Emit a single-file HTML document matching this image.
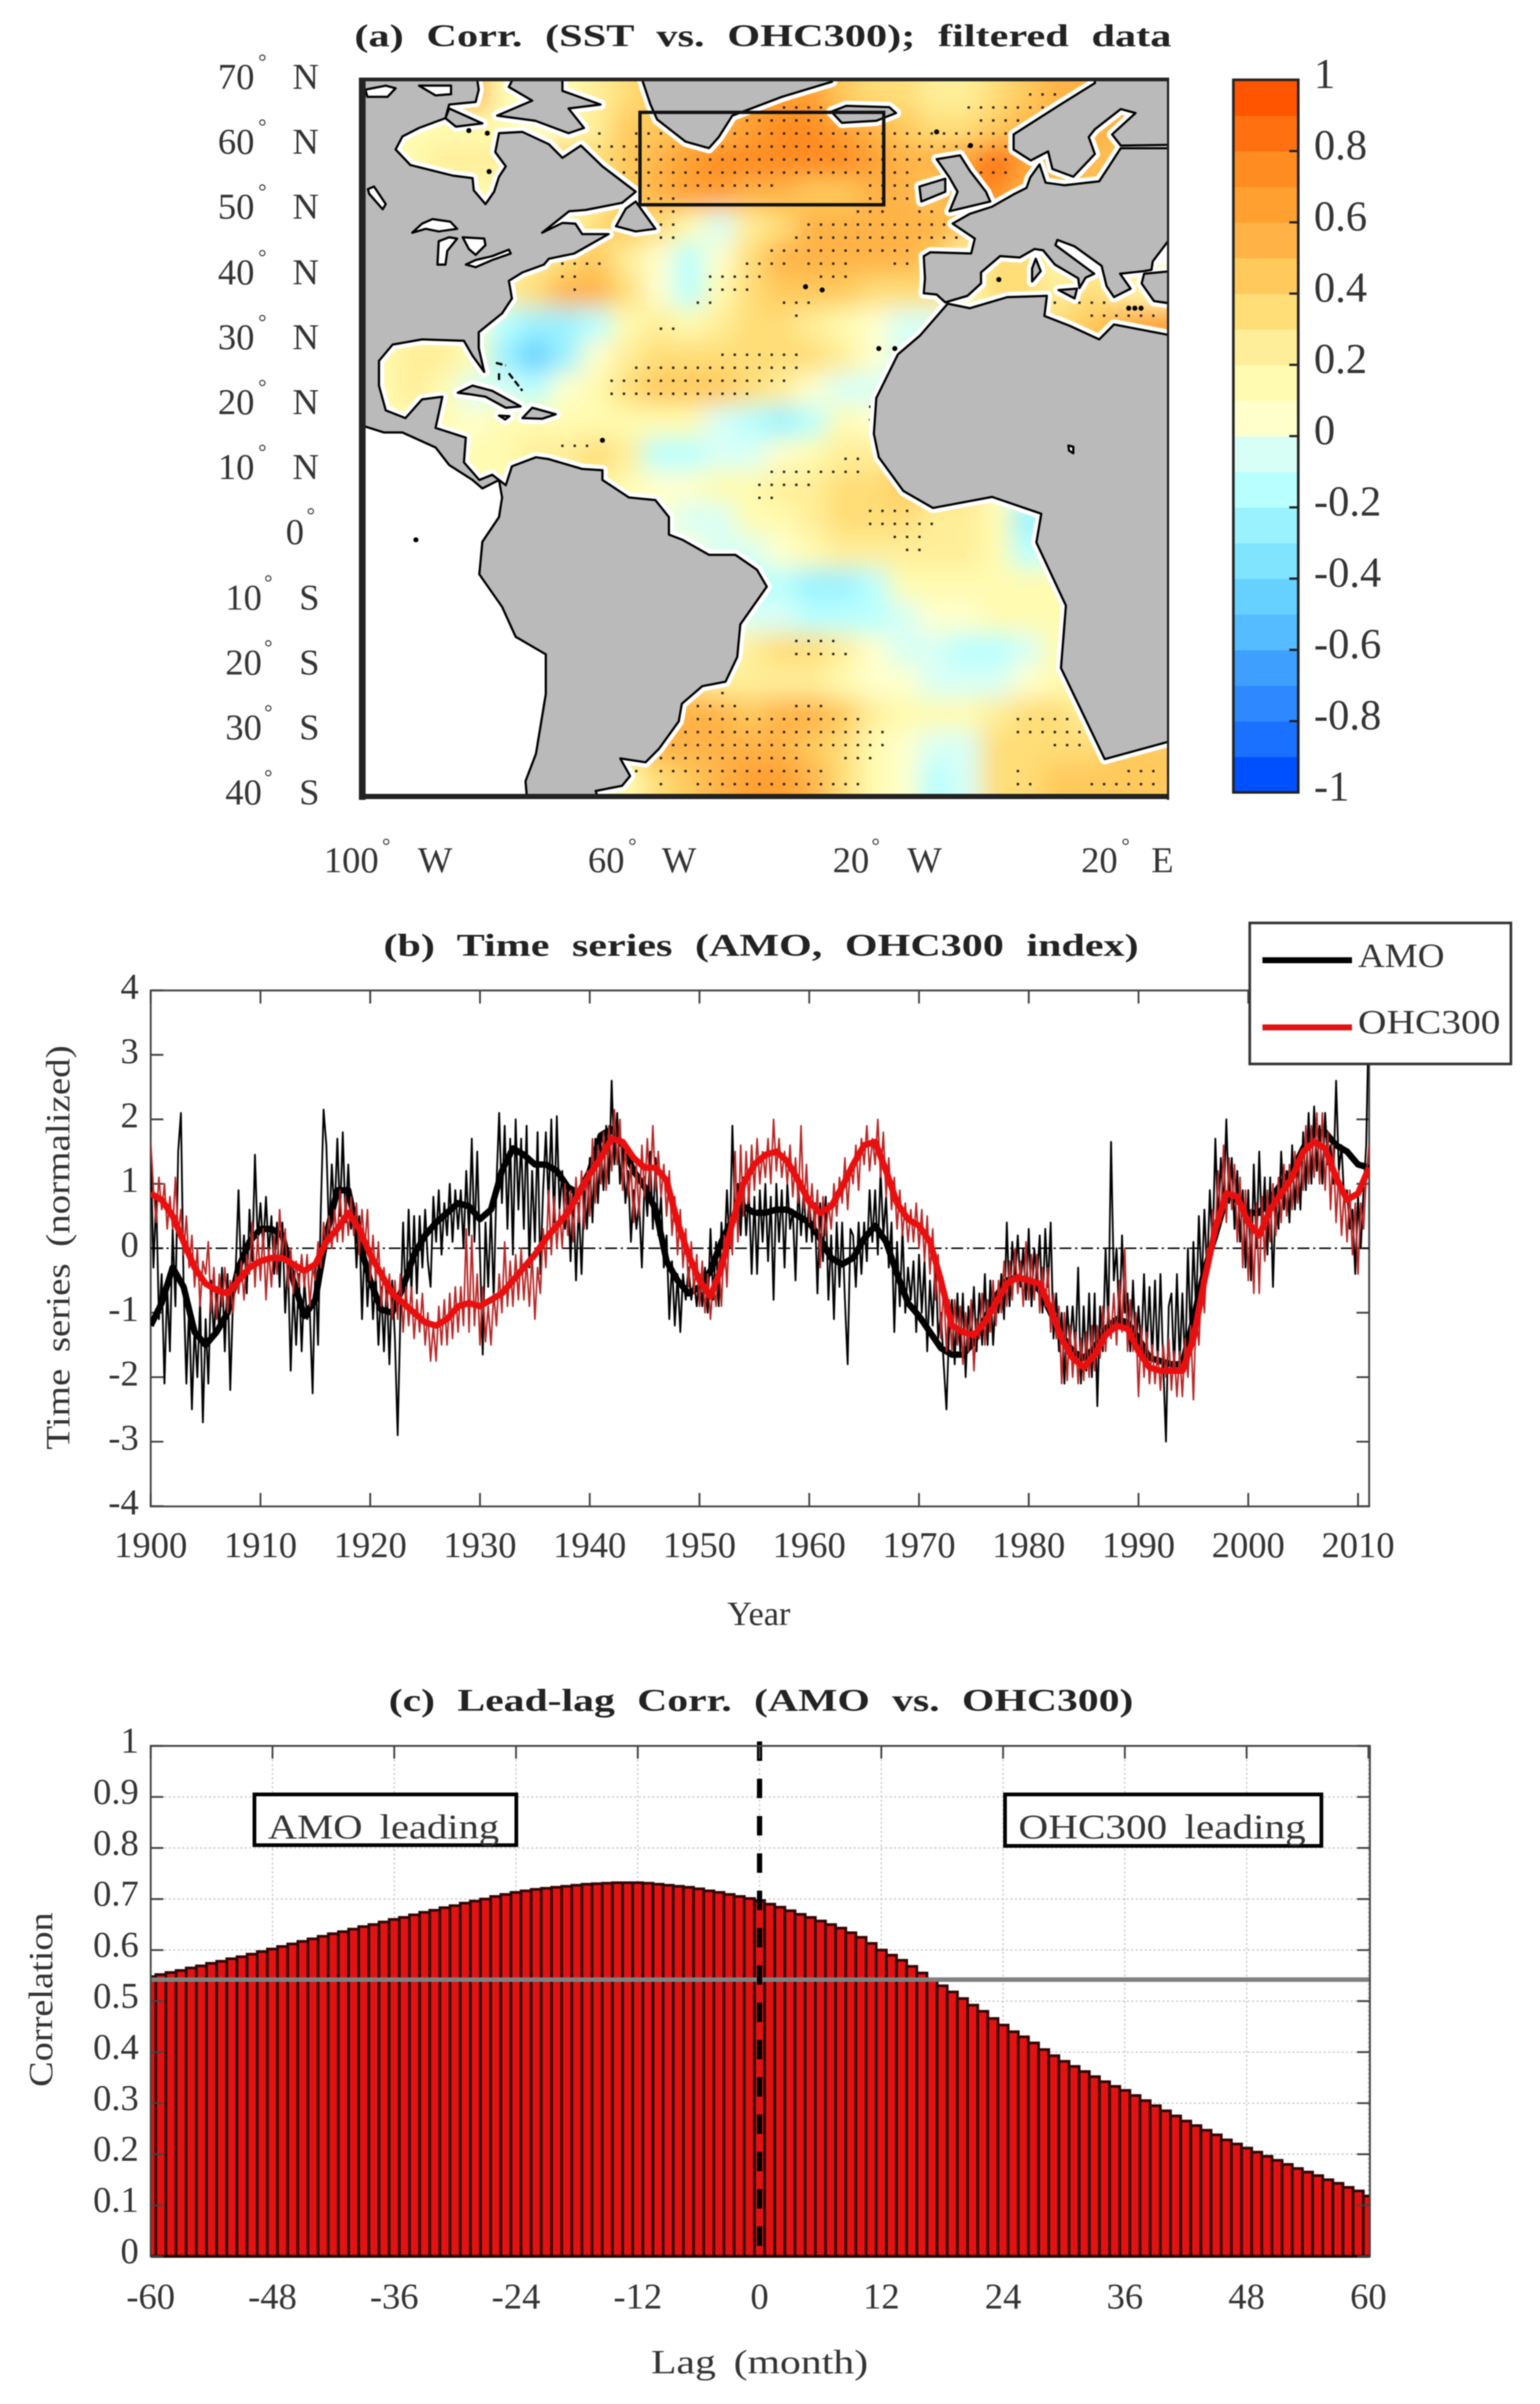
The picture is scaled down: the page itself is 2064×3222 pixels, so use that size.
<!DOCTYPE html>
<html lang="en">
<head>
<meta charset="utf-8">
<title>AMO and OHC300 correlation figure</title>
<style>
html,body{margin:0;padding:0;background:#fff;}
svg{display:block;filter:blur(0.7px);}
text{font-family:"Liberation Serif",serif;fill:#333;}
.t{font-size:49px;}
.title{font-size:42px;font-weight:bold;fill:#222;word-spacing:12px;}
.deg{font-size:28px;}
.wide{word-spacing:8px;}
</style>
</head>
<body>
<svg id="fig" xmlns="http://www.w3.org/2000/svg" width="2064" height="3222" viewBox="0 0 2064 3222">
<defs>
<clipPath id="mapClip"><rect x="484" y="107" width="1081" height="960"/></clipPath>
<clipPath id="tsClip"><rect x="202" y="1200" width="1633" height="819"/></clipPath>
<clipPath id="llClip"><rect x="202" y="2340" width="1634" height="684"/></clipPath>
<filter id="fieldBlur" x="-5%" y="-5%" width="110%" height="110%"><feGaussianBlur stdDeviation="16"/></filter>
</defs>
<rect width="2064" height="3222" fill="#fff"/>

<!-- PANEL A -->
<text class="title" x="475" y="62" textLength="1095" lengthAdjust="spacingAndGlyphs">(a) Corr. (SST vs. OHC300); filtered data</text>
<g clip-path="url(#mapClip)">
  <rect x="484" y="107" width="1081" height="960" fill="#fff"/>
  <g id="fieldG" filter="url(#fieldBlur)"></g>
  <g id="stippleG"></g>
  <path id="pacificMask" fill="#fff"/>
  <g id="landHalo"></g>
  <g id="landG"></g>
  <g id="lakeG"></g>
  <g id="marksG"></g>
</g>
<rect id="spgBox" fill="none" stroke="#111" stroke-width="4.5"/>
<g fill="#222">
  <rect x="481" y="104" width="1086" height="5"/>
  <rect x="481" y="104" width="9" height="968"/>
  <rect x="481" y="1064" width="1086" height="7"/>
  <rect x="1564" y="104" width="3" height="968"/>
</g>
<g>
  <text class="t" x="292" y="119">70</text><text class="deg" x="346" y="92">°</text><text class="t" x="392" y="119">N</text>
  <text class="t" x="292" y="206">60</text><text class="deg" x="346" y="179">°</text><text class="t" x="392" y="206">N</text>
  <text class="t" x="292" y="293">50</text><text class="deg" x="346" y="266">°</text><text class="t" x="392" y="293">N</text>
  <text class="t" x="292" y="381">40</text><text class="deg" x="346" y="354">°</text><text class="t" x="392" y="381">N</text>
  <text class="t" x="292" y="468">30</text><text class="deg" x="346" y="441">°</text><text class="t" x="392" y="468">N</text>
  <text class="t" x="292" y="555">20</text><text class="deg" x="346" y="528">°</text><text class="t" x="392" y="555">N</text>
  <text class="t" x="292" y="642">10</text><text class="deg" x="346" y="615">°</text><text class="t" x="392" y="642">N</text>
  <text class="t" x="383" y="729">0</text><text class="deg" x="411" y="700">°</text>
  <text class="t" x="302" y="817">10</text><text class="deg" x="354" y="790">°</text><text class="t" x="401" y="817">S</text>
  <text class="t" x="302" y="904">20</text><text class="deg" x="354" y="877">°</text><text class="t" x="401" y="904">S</text>
  <text class="t" x="302" y="991">30</text><text class="deg" x="354" y="964">°</text><text class="t" x="401" y="991">S</text>
  <text class="t" x="302" y="1078">40</text><text class="deg" x="354" y="1051">°</text><text class="t" x="401" y="1078">S</text>
</g>
<g>
  <text class="t" x="434" y="1169">100</text><text class="deg" x="512" y="1143">°</text><text class="t" x="560" y="1169">W</text>
  <text class="t" x="788" y="1169">60</text><text class="deg" x="842" y="1143">°</text><text class="t" x="887" y="1169">W</text>
  <text class="t" x="1116" y="1169">20</text><text class="deg" x="1168" y="1143">°</text><text class="t" x="1216" y="1169">W</text>
  <text class="t" x="1449" y="1169">20</text><text class="deg" x="1503" y="1143">°</text><text class="t" x="1558" y="1169" text-anchor="middle">E</text>
</g>
<g id="cbarG"></g>

<!-- PANEL B -->
<text class="title" x="514" y="1281" textLength="1012" lengthAdjust="spacingAndGlyphs">(b) Time series (AMO, OHC300 index)</text>
<g id="tsG"></g>
<text class="t wide" style="font-size:46px" transform="translate(93,1672) rotate(-90)" text-anchor="middle" textLength="542" lengthAdjust="spacingAndGlyphs">Time series (normalized)</text>
<text class="t" style="font-size:46px" x="1017" y="2178" text-anchor="middle">Year</text>
<g>
  <rect x="1675" y="1237" width="350" height="189" fill="#fff" stroke="#333" stroke-width="3.5"/>
  <line x1="1692" x2="1812" y1="1287" y2="1287" stroke="#000" stroke-width="8"/>
  <text class="t" style="font-size:46px" x="1820" y="1296" textLength="116" lengthAdjust="spacingAndGlyphs">AMO</text>
  <line x1="1692" x2="1812" y1="1377" y2="1377" stroke="#e01212" stroke-width="8"/>
  <text class="t" style="font-size:46px" x="1820" y="1385" textLength="191" lengthAdjust="spacingAndGlyphs">OHC300</text>
</g>

<!-- PANEL C -->
<text class="title" x="521" y="2293" textLength="998" lengthAdjust="spacingAndGlyphs">(c) Lead-lag Corr. (AMO vs. OHC300)</text>
<g id="llG"></g>
<g>
  <rect x="341" y="2405" width="351" height="68" fill="#fff" stroke="#000" stroke-width="5"/>
  <text class="t wide" style="font-size:47px" x="359" y="2464" textLength="310" lengthAdjust="spacingAndGlyphs">AMO leading</text>
</g>
<g>
  <rect x="1347" y="2405" width="424" height="69" fill="#fff" stroke="#000" stroke-width="5"/>
  <text class="t wide" style="font-size:47px" x="1365" y="2464" textLength="385" lengthAdjust="spacingAndGlyphs">OHC300 leading</text>
</g>
<text class="t" style="font-size:46px" transform="translate(70,2680) rotate(-90)" text-anchor="middle" textLength="234" lengthAdjust="spacingAndGlyphs">Correlation</text>
<text class="t wide" style="font-size:46px" x="1018" y="3181" text-anchor="middle" textLength="291" lengthAdjust="spacingAndGlyphs">Lag (month)</text>
</svg>

<script>
// ===== Lead-lag data =====
const lagTicks = [-60,-48,-36,-24,-12,0,12,24,36,48,60];
const corrTicks = [0,0.1,0.2,0.3,0.4,0.5,0.6,0.7,0.8,0.9,1];
const significanceLevel = 0.542;
const lagCorrelation = [
.548,.552,.556,.560,.565,.569,.574,.578,.583,.587,.592,.597,
.602,.607,.612,.617,.622,.627,.632,.636,.641,.646,.650,.655,
.660,.664,.669,.674,.678,.683,.687,.692,.696,.700,.705,.709,
.713,.716,.719,.721,.723,.725,.727,.729,.730,.731,.732,.732,
.732,.731,.729,.727,.725,.723,.720,.716,.713,.709,.705,.701,
.697,.690,.684,.677,.670,.664,.657,.650,.643,.634,.625,.613,
.600,.590,.580,.568,.555,.542,.530,.518,.505,.492,.480,.466,
.453,.440,.430,.418,.405,.393,.382,.372,.362,.352,.342,.333,
.325,.315,.305,.295,.285,.275,.265,.256,.247,.238,.228,.220,
.212,.204,.196,.188,.180,.172,.165,.158,.150,.143,.135,.128,.118];

// ===== Time series data (quarter-year samples, from 1900) =====
const yearTicks = [1900,1910,1920,1930,1940,1950,1960,1970,1980,1990,2000,2010];
const seriesTicks = [-4,-3,-2,-1,0,1,2,3,4];
const amoRaw = [
1.5,-.3,.8,-1.1, -.4,-2.1,-.6,-1.6, .3,-.9,1.5,2.1, -.6,-2.1,-.9,-2.5, -1.2,-2.0,-.8,-2.7,
-1.1,-2.1,-.5,-1.4, -.6,-1.3,-.3,-1.6, -.4,-2.2,-.8,-.3, .9,-.5,.2,-.7, .6,-.2,1.45,.1,
.7,0,.8,-.1, .5,-.4,.4,-.6, .4,-1.0,-.2,-1.9, -.6,-1.5,-.4,-1.6, -.5,-1.1,-1.0,-2.25,
-.3,-1.5,.6,2.15, 1.6,.2,1.3,.5, 1.7,.5,1.8,.4, 1.3,.3,.7,-.3, .5,-1.1,.1,-.9,
-.2,-1.1,-.4,-1.5, -.6,-1.6,-.5,-1.8, -.5,-1.4,-2.9,-1.0, .4,-.9,.6,-.7, .5,-.7,.5,-.3,
.6,-.2,-.6,.8, .1,.9,-.1,.7, .2,1.0,.1,.9, .3,.9,0,1.2, .2,1.7,.1,1.5,
-.1,-1.65,.4,-.6, .6,-.8,1.0,2.1, .7,1.9,.3,1.7, -.1,2.0,.6,1.7, .3,1.9,-.3,1.2,
.1,1.8,-.4,.9, 1.8,.7,2.0,.4, 2.05,.6,1.2,.3, 1.0,-.2,.9,-.5, .7,-.4,.9,.3,
1.4,.4,1.7,.7, 1.6,.9,1.9,1.0, 2.6,1.3,2.1,1.0, 1.6,.7,1.2,.1, .9,.3,.7,-.3,
1.1,.5,1.5,.3, 1.4,.2,.8,-.3, .2,-1.1,-.2,-1.2, -.4,-1.3,-.4,-.8, -.3,-.8,-.5,-.9,
-.4,-.9,-.3,-1.0, .3,-.8,.1,-.9, .4,-.2,.9,0, 1.9,.4,1.0,.2, 1.1,.2,.9,-.4,
.8,-.4,.9,.1, 1.0,-.2,.8,-.8, 1.0,.1,.9,-.3, 1.0,.3,.6,-.5, 1.0,.2,.9,.1,
.8,.1,.7,-.7, .7,-.2,.8,-.8, .2,-1.1,.4,-.6, .4,-.8,-1.8,.3, .2,-.6,.4,-.4,
.4,-.2,.9,.1, .9,-.1,1.2,.2, .8,-.3,.4,-1.3, .1,-.9,.3,-1.0, -.3,-.8,-.2,-1.3,
-.1,-1.0,-.2,-1.6, -.5,-1.2,-.1,-1.4, -1.0,-1.8,-2.5,-1.2, -.8,-1.8,-.7,-1.6, -.7,-2.0,-.9,-1.5,
-.6,-1.6,-.7,-1.5, -.4,-1.5,-.5,-1.5, -.7,-1.0,-.4,-1.1, .4,-.9,.1,-.5, .2,-.6,0,-.8,
.3,-.9,0,-.5, .2,-1.0,.3,-.6, .4,-1.4,-.7,-1.6, -1.0,-2.1,-.9,-1.5, -.9,-1.6,-.3,-2.1,
-.9,-1.9,-.7,-2.0, -.7,-2.45,-.9,-1.6, 0,-1.2,1.65,-.5, 0,-1.2,.2,-1.0, -.7,-1.6,-.5,-1.6,
-.9,-1.6,-.4,-1.6, -.6,-1.7,-.5,-1.8, -.4,-1.8,-3.0,-.9, -.7,-1.9,-.4,-1.8, -.7,-1.9,0,-1.4,
.1,-1.0,.5,-.6, .6,-.4,.9,0, 1.7,.4,1.4,.6, 2.0,.7,1.4,.3, 1.2,.1,.9,-.3,
.9,-.5,1.3,0, 1.5,.2,1.1,-.1, 1.1,-.6,.8,.3, 1.5,.6,1.2,.4, 1.6,.6,1.4,.6,
1.8,.9,2.1,1.0, 2.2,1.2,1.9,1.0, 2.1,1.3,1.6,1.0, 2.6,1.2,1.6,.7, .9,.3,.6,-.4,
.8,0,.9,1.6, 3.8];
const ohcRaw = [
1.65,.9,.4,1.1, .6,1.0,.3,.8, .3,1.1,.2,.6, -.1,.5,-.3,.2, -.6,0,-.9,-.2,
-.4,.1,-1.0,-.3, -1.1,-.4,-.9,-.3, -1.0,-.5,-1.0,-.4, -.7,-.2,-.8,-.1, -.4,.4,-.6,.2,
-.5,.3,-.8,0, -.6,.2,-.4,.6, -.1,.3,-.6,0, -.7,-.2,-.6,-.1, -.6,-.1,-.9,-.3,
-.5,.1,-.3,.4, 0,.5,0,.6, .1,.9,.1,.8, .2,.8,.2,.7, -.1,.6,0,.6,
-.5,.2,-.5,.1, -.9,-.3,-.9,-.4, -1.1,-.5,-1.1,-.4, -1.3,-.6,-1.2,-.6, -1.4,-.8,-1.3,-.7,
-1.5,-1.0,-1.75,-1.2, -1.75,-.9,-1.5,-.8, -1.5,-.7,-1.4,-.6, -1.3,-.6,-1.2,.3, -1.3,.2,-1.2,-.4,
-1.5,-.6,-1.45,-.9, -1.5,-.7,-1.2,-.4, -1.0,.1,-.9,-.2, -.9,-.1,-.8,0, -.8,-.2,-.9,-.1,
-1.1,-.3,-.7,.3, -.3,.9,-.1,.8, 0,.6,0,1.0, .2,.9,.1,1.1, .4,1.2,.3,1.2,
.5,1.7,.7,1.6, 1.0,1.8,.9,1.9, 1.2,2.15,1.3,2.0, .9,1.6,.8,1.3, .4,1.3,.5,1.6,
.8,1.7,.9,1.9, .9,1.5,.8,1.3, .5,1.2,.2,.8, -.1,.6,-.3,.3, -.6,.1,-.7,-.1,
-.9,-.2,-1.0,-.4, -1.1,-.5,-.9,-.2, -.9,.2,-.6,.5, -.1,1.5,.1,1.6, .5,1.5,.7,1.6,
.9,1.7,1.0,1.5, 1.1,1.7,1.0,2.0, 1.2,1.7,1.1,1.5, 1.0,1.6,.8,1.4, .7,1.9,.6,1.3,
.4,1.0,.3,.9, -.3,.8,.2,.7, .3,1.0,.5,1.1, .7,1.4,.6,1.3, 1.0,1.6,.9,1.7,
1.3,1.9,1.2,1.7, 1.3,2.0,1.1,1.8, .8,1.4,.6,1.1, .3,.9,.2,.7, .1,.6,.1,.7,
0,.6,-.2,.5, -.4,.3,-.8,-.1, -1.4,-.6,-1.6,-.8, -1.6,-.8,-1.5,-.9, -1.8,-1.0,-1.6,-.8,
-1.9,-1.1,-1.4,-.7, -1.5,-.8,-1.3,-.5, -1.2,-.5,-1.0,-.2, -.9,-.2,-.8,0, -.7,-.2,-.9,.1,
-.8,-.1,-.8,-.1, -1.0,-.3,-.9,-.3, -1.3,-.7,-1.4,-.9, -2.1,-1.0,-2.05,-1.2, -2.0,-1.3,-2.1,-1.4,
-2.05,-1.3,-2.0,-1.2, -1.9,-1.2,-1.7,-.9, -1.6,-.9,-1.4,-.7, -1.5,-.5,-1.3,0, -1.6,-.8,-1.6,-1.0,
-2.3,-1.2,-2.0,-1.3, -2.1,-1.5,-2.1,-1.6, -2.2,-1.5,-2.0,-1.4, -2.2,-1.6,-2.3,-1.6, -2.3,-1.4,-2.0,-1.2,
-2.35,-1.0,-1.5,-.5, -1.0,0,-.3,.6, .2,1.2,.4,1.6, .4,1.4,.6,1.3, .1,1.1,-.3,.9,
-.5,.6,-.7,.7, -.7,.8,-.2,.9, .1,1.0,.2,1.1, .4,1.3,.5,1.3, .6,1.5,.7,1.5,
.9,1.9,1.0,1.9, 1.1,2.1,1.0,2.1, .9,1.8,.6,1.6, .4,1.2,.2,.9, .1,.9,-.1,.7,
-.4,.7,.3,1.1, 1.6];
const amoSmooth = [
-1.2,-.85,-.3,-.6,-1.3,-1.5,-1.3,-1.0,-.3,.1,
.3,.3,.2,-.5,-1.05,-.8,.2,.9,.9,.1,
-.5,-.95,-1.0,-.6,-.1,.2,.4,.55,.7,.65,
.45,.6,1.2,1.55,1.45,1.3,1.3,1.2,.95,.85,
1.2,1.75,1.85,1.6,1.2,.95,.6,-.2,-.5,-.7,
-.6,-.35,.1,.45,.65,.55,.55,.6,.6,.5,
.4,.15,-.15,-.25,-.15,.15,.35,.1,-.4,-.85,
-1.05,-1.3,-1.55,-1.65,-1.65,-1.45,-1.1,-.75,-.5,-.45,
-.5,-.65,-1.0,-1.35,-1.6,-1.7,-1.55,-1.25,-1.1,-1.15,
-1.4,-1.7,-1.75,-1.8,-1.8,-1.1,-.35,.2,.8,.75,
.55,.55,.75,1.0,1.2,1.55,1.8,1.8,1.6,1.5,
1.3,1.25];
const ohcSmooth = [
.85,.75,.5,.1,-.3,-.55,-.65,-.7,-.5,-.3,
-.2,-.15,-.15,-.25,-.35,-.25,.1,.3,.55,.3,
-.1,-.4,-.7,-.85,-1.0,-1.15,-1.2,-1.1,-.9,-.85,
-.9,-.8,-.7,-.5,-.3,-.1,.15,.35,.55,.85,
1.15,1.4,1.7,1.65,1.4,1.25,1.25,1.05,.4,-.1,
-.5,-.75,-.3,.4,1.0,1.3,1.45,1.5,1.35,1.05,
.72,.55,.65,.95,1.3,1.6,1.65,1.2,.7,.45,
.35,.1,-.5,-1.2,-1.3,-1.35,-1.15,-.85,-.55,-.45,
-.5,-.55,-.95,-1.4,-1.7,-1.85,-1.65,-1.35,-1.2,-1.25,
-1.6,-1.85,-1.9,-1.9,-1.9,-1.4,-.5,.3,.85,.8,
.4,.2,.6,.85,1.1,1.5,1.65,1.55,1.1,.75,
.85,1.25];

// ===== Map data =====
const fieldLons = [-97.5,-92.5,-87.5,-82.5,-77.5,-72.5,-67.5,-62.5,-57.5,-52.5,-47.5,-42.5,-37.5,-32.5,-27.5,-22.5,-17.5,-12.5,-7.5,-2.5,2.5,7.5,12.5,17.5,22.5,27.5];
const fieldLats = [67.5,62.5,57.5,52.5,47.5,42.5,37.5,32.5,27.5,22.5,17.5,12.5,7.5,2.5,-2.5,-7.5,-12.5,-17.5,-22.5,-27.5,-32.5,-37.5];
const n = null;
const fieldValues = [
[n,n,n,.5,n,n,n,.25,.3,n,n,n,n,n,n,.45,.35,.3,.2,.2,.3,.45,.55,n,n,n],
[n,n,.1,.1,.1,.05,.1,.25,.4,.45,.5,.5,.65,.72,.72,.65,.5,.42,.3,.35,.42,.5,n,.55,n,n],
[n,.15,.2,.2,.2,n,.4,.35,.48,.58,.66,.72,.78,.78,.76,.7,.62,.55,.5,.68,.82,.6,.5,.55,.4,n],
[n,n,n,.15,n,n,n,.2,.45,.55,.62,.62,.58,.55,.48,.42,.52,.52,.4,.7,.72,.5,.4,.45,n,n],
[n,n,.05,n,n,n,.1,.3,.4,.35,.18,-.05,.2,.35,.5,.55,.55,.55,.5,n,n,n,n,n,n,n],
[n,n,n,n,n,.25,.35,.42,.25,.02,-.15,.05,.35,.5,.5,.5,.5,.5,.45,.1,.3,.3,.15,n,n,n],
[n,n,n,n,.25,.38,.5,.5,.3,.05,-.15,.1,.35,.4,.4,.4,.35,.3,.3,.15,.3,.3,.2,.35,.2,.1],
[n,n,n,.05,-.15,-.25,-.25,-.15,.1,.2,.15,.25,.3,.3,.25,.15,0,-.1,-.1,n,n,n,.35,.45,.5,.6],
[.15,.2,.2,.1,-.3,-.45,-.3,0,.2,.3,.3,.3,.35,.3,.3,.2,.05,-.1,n,n,n,n,n,n,n,n],
[.15,.2,.15,-.05,-.1,-.15,0,.15,.3,.4,.4,.4,.35,.2,.05,-.05,-.1,n,n,n,n,n,n,n,n,n],
[n,n,.1,0,.1,.1,.1,.15,.1,.15,.1,-.05,-.2,-.3,-.15,.1,.05,n,n,n,n,n,n,n,n,n],
[n,n,n,.1,.15,.2,.25,.35,.2,-.15,-.2,-.1,-.1,.05,.1,.25,.25,n,n,n,n,n,n,n,n,n],
[n,n,n,n,n,n,n,.2,.1,.05,.05,.1,.15,.2,.25,.3,.35,.4,.35,.3,n,n,n,n,n,n],
[n,n,n,n,n,n,n,n,n,0,-.05,-.05,.1,.15,.25,.3,.3,.35,.25,.2,.1,-.25,n,n,n,n],
[n,n,n,n,n,n,n,n,n,n,0,-.1,-.1,.05,.15,.2,.25,.25,.2,.2,.1,-.15,n,n,n,n],
[n,n,n,n,n,n,n,n,n,n,n,n,-.15,-.18,-.22,-.22,-.12,.1,.15,.15,.15,.15,.15,n,n,n],
[n,n,n,n,n,n,n,n,n,n,n,n,-.1,-.08,-.15,-.2,-.15,-.05,.05,.05,.1,.15,.15,n,n,n],
[n,n,n,n,n,n,n,n,n,n,n,.15,.2,.3,.3,.2,0,-.05,-.1,-.12,-.12,-.05,.1,n,n,n],
[n,n,n,n,n,n,n,n,n,n,n,.2,.25,.25,.2,.1,.05,0,-.08,-.1,-.1,0,.1,n,n,n],
[n,n,n,n,n,n,n,n,n,n,.5,.5,.45,.5,.5,.4,.25,.1,.1,.15,.25,.35,.3,n,n,n],
[n,n,n,n,n,n,n,n,n,.55,.55,.5,.55,.55,.45,.3,.15,0,-.1,-.05,.3,.35,.3,.3,n,n],
[n,n,n,n,n,n,n,n,.1,.35,.4,.5,.6,.6,.5,.35,.1,0,-.15,-.05,.3,.35,.4,.4,.45,.45]];
const levelColors = ["#0050ff","#1a70ff","#2e88ff","#3f9fff","#55bdff","#66d0ff","#80e4ff","#9af2ff","#b8ffff","#d8fff5",
"#ffffcc","#fffbb0","#ffee99","#ffdd77","#ffc95c","#ffb347","#ffa030","#ff8c20","#ff7010","#ff5500"];
const colorbarTicks = [1,.8,.6,.4,.2,0,-.2,-.4,-.6,-.8,-1];
// stipple rows: latitude, first longitude, last longitude (2 degree spacing)
const stippleRows = [
[68,8,12],[66,-32,-26],[66,-2,10],[64,-38,-26],[64,0,6],[62,-62,-62],[62,-56,-52],[62,-40,4],[60,-62,-50],[60,-42,4],
[58,-60,-10],[58,0,4],[56,-58,-12],[56,0,4],[54,-54,-34],[54,-18,-12],[52,-54,-50],[52,-18,-12],[50,-52,-50],[50,-20,-16],[50,-10,-8],
[48,-52,-50],[48,-28,-6],[46,-52,-50],[46,-30,-4],[44,-34,-12],[42,-68,-62],[42,-38,-32],[42,-28,-22],[42,-14,-12],
[40,-68,-66],[40,-44,-36],[40,-26,-22],[38,-66,-66],[38,-44,-38],[36,-46,-44],[36,-32,-28],[36,12,12],[36,16,20],[34,-30,-30],[34,12,12],[34,18,28],[32,-52,-50],
[28,-42,-30],[26,-56,-30],[24,-60,-32],[22,-60,-38],[20,-18,-18],[18,-18,-18],[14,-68,-64],[12,-22,-20],[10,-34,-20],[8,-36,-28],[6,-36,-34],[4,-18,-12],[2,-18,-8],[0,-14,-10],[-2,-12,-10],
[-16,-30,-24],[-18,-30,-22],[-24,-42,-42],[-26,-46,-40],[-26,-30,-26],[-28,-46,-20],[-28,6,14],[-30,-48,-16],[-30,6,16],[-32,-50,-16],[-32,12,16],
[-34,-52,-30],[-34,-22,-18],[-36,-56,-56],[-36,-52,-26],[-36,6,6],[-36,24,28],[-38,-52,-52],[-38,-46,-20],[-38,6,8],[-38,18,28],[-40,-52,-52],[-40,-44,-14]];
// land outlines as longitude/latitude vertices
const americasCoast = [[-101,71],[-82,71],[-81.6,68.5],[-82.1,66.6],[-86.4,66.2],[-87,64.1],[-91.3,62.6],[-94,61.3],[-95.1,59.3],[-92.7,56.9],[-85.9,55.3],[-82.6,54.9],[-82.4,53],[-80.5,50.9],[-79.1,52.8],[-78.3,55.1],[-77.2,56.7],[-78.9,58.9],[-78.3,61.8],[-74.5,62],[-70.2,60.1],[-68,58],[-65,59.9],[-61.5,56.7],[-56.1,52.8],[-58.3,51.1],[-64.2,50],[-66.9,49.8],[-71.3,46.5],[-68,48],[-65.9,47.9],[-64.8,46.3],[-60.5,46.3],[-66.1,43.3],[-70.2,42.5],[-71,41.6],[-74.5,40.4],[-76.7,39.1],[-76.2,36.4],[-77.8,34.1],[-81.6,31.2],[-81.6,28.8],[-80.7,25.1],[-82.6,27.6],[-84,29.9],[-90.8,30.1],[-95.6,29.3],[-97.8,26.8],[-97.8,23],[-96.7,19.2],[-93.5,18],[-90.8,20.9],[-87.5,21.3],[-88.6,16.5],[-83.7,15],[-84,11.2],[-81.5,8.5],[-79.4,9.3],[-77.2,7.7],[-76.2,10.6],[-72.3,12],[-70.2,11.7],[-64.8,10.2],[-61.5,10],[-61.5,8.5],[-57.2,5.8],[-52.9,5.4],[-50.7,2.8],[-50.7,.1],[-48.5,-.7],[-44.2,-3],[-39.9,-3],[-36.4,-5.3],[-34.8,-7.9],[-39.1,-13.7],[-39.6,-18.7],[-41.5,-22.5],[-45.3,-23.2],[-48.6,-25.9],[-49.1,-28.6],[-52.3,-32.8],[-54.5,-34.9],[-58.6,-34.3],[-57,-37],[-58.3,-38.5],[-62.6,-39.3],[-62,-41],[-73.7,-41],[-74,-37.8],[-72.3,-33.6],[-70.7,-24.4],[-70.7,-18.3],[-75.6,-15.6],[-77.8,-11],[-81.5,-6],[-81,-1],[-78.3,2.8],[-77.8,5.8],[-78.3,8.5],[-81,7.2],[-82.6,8.5],[-86.4,10.8],[-88.6,13.5],[-94,15.8],[-97,15.8],[-101,17]];
const baffinCoast = [[-75.6,71],[-68,71],[-68,68.3],[-61.8,66.2],[-67,65.6],[-64.5,62.6],[-67,61.8],[-72.4,63.7],[-78.6,64.5],[-72.9,66.8],[-76.7,68.9]];
const southamptonCoast = [[-86.4,65.6],[-81,63.3],[-85.3,62.8],[-87,64.1]];
const newfoundlandCoast = [[-57.7,50.2],[-56.1,51.3],[-52.9,47.1],[-56.1,46.7],[-59.3,47.5]];
const cubaCoast = [[-85,21.9],[-82.6,23],[-79.4,22.2],[-74.8,19.8],[-77.2,19.6],[-80.5,21.3],[-83.2,21.7]];
const hispaniolaCoast = [[-74.5,18],[-72.9,19.6],[-69.1,18.6],[-71.3,17.9]];
const jamaicaCoast = [[-78.3,18.4],[-76.6,18.3],[-77.3,17.8]];
const greenlandCoast = [[-55,71],[-55,69.9],[-53.7,66.2],[-52.6,63.9],[-48,60.5],[-44.2,59.5],[-42.6,61.2],[-40.4,64.5],[-32.3,67.4],[-24.2,69.7],[-24,71]];
const icelandCoast = [[-24.3,65.1],[-21.9,66],[-14.9,65.8],[-13.8,64.9],[-17,63.7],[-22.6,63.4]];
const ukCoast = [[-7.2,57.8],[-3.4,58.4],[-1.8,56],[.8,52.8],[1.5,51.3],[-5.1,49.8],[-3.8,52.8],[-5.2,55.1]];
const irelandCoast = [[-10,53.6],[-5.8,54.8],[-5.8,52.8],[-9.7,51.3]];
const scandinaviaCoast = [[18.5,71],[31,71],[31,60],[22.7,59.9],[21.3,61.6],[25.1,64.9],[22.7,65.5],[18.5,62.4],[17.5,61.2],[18.5,58.6],[15,55.1],[11.6,56.3],[10.9,59],[8.1,57.6],[5.3,59.3],[5.3,61.6],[12.9,66.2],[18.5,69.5]];
const europeCoast = [[31,59.5],[22.7,59.5],[21,57],[19.2,54.4],[13.6,53.8],[10.5,54.2],[9.5,57],[8,55],[7.4,53.4],[5.5,52.5],[1.8,50.5],[-1.8,49.4],[-4.6,47.9],[-1,45.6],[-1.6,43.3],[-8.2,43.5],[-9.3,42.9],[-9.1,39.5],[-9.3,37.2],[-7.2,37],[-5.8,35.8],[-2.2,36.8],[0,38.7],[0,40.4],[3.1,42.9],[6.3,42.7],[8.7,44],[10.1,43.8],[12,41.6],[15.8,39.5],[16,38],[17,39.6],[18.4,40.2],[12.1,44.6],[12.4,45.4],[15.2,44.4],[19.6,41.4],[20.4,38.3],[21.6,36.6],[24.3,37.9],[22.6,40.2],[26.5,40.6],[27.7,40.8],[27.9,42.1],[29.9,44.6],[31,46]];
const turkeyCoast = [[31,40.6],[26.5,40.2],[26.1,38.7],[28.1,36],[31,35.6]];
const sicilyCoast = [[12.6,37.7],[15.6,37.9],[15.2,36.4]];
const sardiniaCoast = [[8.3,39],[9.7,40.6],[8.9,42.5],[8.3,41]];
const africaCoast = [[31,30.7],[21.6,32.4],[19.2,30.1],[14.4,32.2],[10.3,33.7],[10.7,36.8],[4.3,36.6],[-1.8,34.9],[-5.4,35.6],[-9.9,30.7],[-13.5,27.8],[-17,21.1],[-17.4,15.6],[-16.6,12],[-12.6,6.8],[-7.8,4.2],[1.8,5.9],[9.8,3.3],[9,-1.1],[13.8,-10.8],[13,-20.4],[20.1,-34.4],[30.2,-31.8],[31,-32]];
const lakeSuperior = [[-92.4,46.5],[-90.8,47.9],[-89.1,48.6],[-86.2,48.2],[-85.1,47.1],[-88.1,46.7],[-90.2,47.1]];
const lakeMichigan = [[-88.1,45.2],[-86.4,45.8],[-85.1,45.6],[-86.7,43.7],[-87,41.6],[-88.3,41.6]];
const lakeHuron = [[-84.2,45.8],[-80.7,45.6],[-80.5,44.6],[-82.1,43.1],[-83.2,44]];
const lakeErieOntario = [[-83.7,41.6],[-82.1,42.3],[-79.4,42.9],[-76.7,43.9],[-76.4,43.3],[-79.4,42.3],[-82.1,41.2]];
const lakeWinnipeg = [[-99.6,53.2],[-98.6,53.6],[-96.7,50.9],[-97.2,50.1],[-99.4,52.5]];
const lakeChad = [[14.2,13.8],[15,13.6],[15,12.6],[14.3,13]];
const lakeNorthWest = [[-100,68.5],[-96.7,69.1],[-95.1,68.7],[-96.4,67.4],[-99.7,67.4]];
const lakeNorth = [[-91.3,69.1],[-86.1,69.1],[-86.1,67.8],[-88.6,67.6]];
const blackSeaEdge = [[28.5,46],[31,46],[31,41.5],[28.6,41.6]];
const pacificEdge = [[-101,17],[-97,15.8],[-94,15.8],[-88.6,13.5],[-86.4,10.8],[-82.6,8.5],[-81,7.2],[-78.3,8.5],[-77.8,5.8],[-78.3,2.8],[-81,-1],[-81.5,-6],[-77.8,-11],[-75.6,-15.6],[-70.7,-18.3],[-70.7,-24.4],[-72.3,-33.6],[-74,-37.8],[-73.7,-41],[-101,-41]];
const landPolygons = [americasCoast,baffinCoast,southamptonCoast,newfoundlandCoast,cubaCoast,hispaniolaCoast,jamaicaCoast,greenlandCoast,icelandCoast,ukCoast,irelandCoast,scandinaviaCoast,europeCoast,turkeyCoast,sicilyCoast,sardiniaCoast,africaCoast];
const lakePolygons = [lakeSuperior,lakeMichigan,lakeHuron,lakeErieOntario,lakeWinnipeg,lakeChad,lakeNorthWest,lakeNorth];
const islandDots = [[-91.8,-.7],[-28.5,38.2],[-25.8,37.7],[-16.6,28.7],[-14,28.7],[-83.2,62.2],[-80.2,61.8],[-79.9,55.9],[-61.5,14.6],[-7.2,62],[-1.7,59.9],[24,34.9],[25,34.9],[26,34.9],[2.9,39.3]];
const bahamasChains = [[[-78.8,26.5],[-77.2,26.1]],[[-78.3,24.9],[-78.3,23.8]],[[-76.7,24.9],[-74.5,22.2]]];
const boxBounds = [-55.4,-15.8,65,50.8];

const NS = 'http://www.w3.org/2000/svg';
function mk(parent, tag, attrs, txt){
  const e = document.createElementNS(NS, tag);
  for (const k in attrs) e.setAttribute(k, attrs[k]);
  if (txt !== undefined) e.textContent = txt;
  parent.appendChild(e);
  return e;
}
// ----- map axes -----
const xMap = lon => 484 + (lon + 100.7) * 8.25;
const yMap = lat => 107 + (70 - lat) * 8.72;
const polyD = pts => 'M' + pts.map(p => xMap(p[0]).toFixed(1) + ' ' + yMap(p[1]).toFixed(1)).join('L') + 'Z';
function colorOf(v){
  const i = Math.max(0, Math.min(levelColors.length - 1, Math.floor((v + 1) * 10)));
  return levelColors[i];
}
// field: land-covered cells borrow the neighbouring ocean mean so the blur keeps its colour up to the coast
function cellValue(r, c){
  const v = fieldValues[r][c];
  if (v !== null) return v;
  let sum = 0, cnt = 0;
  for (let a = -1; a <= 1; a++) for (let b = -1; b <= 1; b++) {
    const row = fieldValues[r + a];
    if (!row) continue;
    const w = row[c + b];
    if (w !== null && w !== undefined) { sum += w; cnt++; }
  }
  return cnt ? sum / cnt : null;
}
const fieldG = document.getElementById('fieldG');
fieldValues.forEach((row, r) => row.forEach((_, c) => {
  const v = cellValue(r, c);
  if (v === null) return;
  const top = r === 0 ? 60 : 0;
  const bottom = r === fieldValues.length - 1 ? 60 : 0;
  const right = c === row.length - 1 ? 60 : 0;
  const cell = mk(fieldG, 'rect', {x: xMap(fieldLons[c] - 2.5), y: yMap(fieldLats[r] + 2.5) - top, width: 5 * 8.25 + .5 + right, height: 5 * 8.72 + .5 + top + bottom, fill: colorOf(v)});
  
  
}));
// stipples
const stippleG = document.getElementById('stippleG');
stippleRows.forEach(row => {
  for (let lon = row[1]; lon <= row[2]; lon += 2) {
    const dot = mk(stippleG, 'rect', {x: xMap(lon) - 1.6, y: yMap(row[0] - .25) - 1.6, width: 3.2, height: 3.2, fill: '#222'});
    
    
  }
});
document.getElementById('pacificMask').setAttribute('d', polyD(pacificEdge));
// land
const haloG = document.getElementById('landHalo');
const landG = document.getElementById('landG');
landPolygons.forEach(p => {
  const h = mk(haloG, 'path', {d: polyD(p), fill: '#fff', stroke: '#fff', 'stroke-width': 14, 'stroke-linejoin': 'round'});
  
  
});
const blackSea = mk(haloG, 'path', {d: polyD(blackSeaEdge), fill: '#fff', stroke: 'none'});


landPolygons.forEach(p => {
  const l = mk(landG, 'path', {d: polyD(p), fill: '#bababa', stroke: '#000', 'stroke-width': 3, 'stroke-linejoin': 'round'});
  
  
});
const lakeG = document.getElementById('lakeG');
lakePolygons.forEach(p => {
  const l = mk(lakeG, 'path', {d: polyD(p), fill: '#fff', stroke: '#000', 'stroke-width': 3, 'stroke-linejoin': 'round'});
  
  
});
const marksG = document.getElementById('marksG');
islandDots.forEach(p => {
  const d = mk(marksG, 'circle', {cx: xMap(p[0]), cy: yMap(p[1]), r: 3.4, fill: '#000'});
  
  
});
bahamasChains.forEach(c => {
  const b = mk(marksG, 'line', {x1: xMap(c[0][0]), y1: yMap(c[0][1]), x2: xMap(c[1][0]), y2: yMap(c[1][1]), stroke: '#000', 'stroke-width': 3, 'stroke-dasharray': '9 4'});
  
  
});
// region box
const box = document.getElementById('spgBox');
box.setAttribute('x', xMap(boxBounds[0]));
box.setAttribute('width', xMap(boxBounds[1]) - xMap(boxBounds[0]));
box.setAttribute('y', yMap(boxBounds[2]));
box.setAttribute('height', yMap(boxBounds[3]) - yMap(boxBounds[2]));
// colorbar
const cbarG = document.getElementById('cbarG');
const yBar = v => 584.5 - v * 477.5;
levelColors.forEach((col, i) => {
  const lo = -1 + i * .1, hi = lo + .1;
  const b = mk(cbarG, 'rect', {x: 1652, y: yBar(hi), width: 88, height: yBar(lo) - yBar(hi) + .5, fill: col});
  
  
});
const cf = mk(cbarG, 'rect', {x: 1653, y: yBar(1), width: 87, height: yBar(-1) - yBar(1), fill: 'none', stroke: '#222', 'stroke-width': 3.5});


colorbarTicks.forEach(v => {
  if (Math.abs(v) < 1) {
    const t = mk(cbarG, 'line', {x1: 1728, x2: 1740, y1: yBar(v), y2: yBar(v), stroke: '#222', 'stroke-width': 3});
    
    
  }
  const lab = mk(cbarG, 'text', {class: 't', style: 'font-size:57px', x: 1761, y: yBar(v) + 11}, String(v));
  
  
});

// ----- time series axes -----
const xTs = t => 202 + (t - 1900) * 14.71;
const yTs = v => 1673 - v * 86.4;
const tsG = document.getElementById('tsG');
const tsFrame = mk(tsG, 'rect', {x: 202, y: 1327.5, width: 1633, height: 691.5, fill: '#fff', stroke: '#444', 'stroke-width': 2.5});


yearTicks.forEach(y => {
  [[1327.5, 1345], [2019, 2001]].forEach(s => {
    const t = mk(tsG, 'line', {x1: xTs(y), x2: xTs(y), y1: s[0], y2: s[1], stroke: '#444', 'stroke-width': 2.5});
    
    
  });
  const lab = mk(tsG, 'text', {class: 't', x: xTs(y), y: 2087, 'text-anchor': 'middle'}, String(y));
  
  
});
seriesTicks.forEach(v => {
  [[202, 219], [1835, 1818]].forEach(s => {
    const t = mk(tsG, 'line', {x1: s[0], x2: s[1], y1: yTs(v), y2: yTs(v), stroke: '#444', 'stroke-width': 2.5});
    
    
  });
  const lab = mk(tsG, 'text', {class: 't', x: 186, y: yTs(v) + 11, 'text-anchor': 'end'}, String(v));
  
  
});
const zero = mk(tsG, 'line', {x1: 202, x2: 1835, y1: yTs(0), y2: yTs(0), stroke: '#000', 'stroke-width': 2, 'stroke-dasharray': '16 5 3 5'});


const clipG = mk(tsG, 'g', {'clip-path': 'url(#tsClip)'});


const pathFrom = (vals, perYear) => 'M' + vals.map((v, i) => xTs(1900 + i / perYear).toFixed(1) + ' ' + yTs(v).toFixed(1)).join('L');
const amoThin = mk(clipG, 'path', {d: pathFrom(amoRaw, 4), fill: 'none', stroke: '#000', 'stroke-width': 2.4, 'stroke-linejoin': 'round'});


const amoThick = mk(clipG, 'path', {d: pathFrom(amoSmooth, 1), fill: 'none', stroke: '#000', 'stroke-width': 8.5, 'stroke-linejoin': 'round'});


const ohcThin = mk(clipG, 'path', {d: pathFrom(ohcRaw, 4), fill: 'none', stroke: '#b82828', 'stroke-width': 2.2, 'stroke-linejoin': 'round'});


const ohcThick = mk(clipG, 'path', {d: pathFrom(ohcSmooth, 1), fill: 'none', stroke: '#ea0f0f', 'stroke-width': 8.5, 'stroke-linejoin': 'round'});



// ----- lead-lag axes -----
const xLag = l => 1018 + l * 13.6;
const yCorr = v => 3024 - v * 684;
const llG = document.getElementById('llG');
lagTicks.forEach(l => {
  const g = mk(llG, 'line', {x1: xLag(l), x2: xLag(l), y1: 2340, y2: 3024, stroke: '#c8c8c8', 'stroke-width': 1.6, 'stroke-dasharray': '3 3'});
  
  
});
corrTicks.forEach(v => {
  const g = mk(llG, 'line', {x1: 202, x2: 1836, y1: yCorr(v), y2: yCorr(v), stroke: '#c8c8c8', 'stroke-width': 1.6, 'stroke-dasharray': '3 3'});
  
  
});
const barsG = mk(llG, 'g', {'clip-path': 'url(#llClip)'});


lagCorrelation.forEach((v, i) => {
  const lag = i - 60;
  const b = mk(barsG, 'rect', {x: xLag(lag) - 6.8, y: yCorr(v), width: 13.6, height: 3024 - yCorr(v), fill: '#e21212', stroke: '#300606', 'stroke-width': 3.6});
  
  
});
const sig = mk(llG, 'line', {x1: 202, x2: 1836, y1: yCorr(significanceLevel), y2: yCorr(significanceLevel), stroke: '#808080', 'stroke-width': 6});


const vLine = mk(llG, 'line', {x1: xLag(0), x2: xLag(0), y1: 2334, y2: 3032, stroke: '#000', 'stroke-width': 7, 'stroke-dasharray': '26 24'});


const llFrame = mk(llG, 'rect', {x: 202, y: 2340, width: 1634, height: 684, fill: 'none', stroke: '#444', 'stroke-width': 2.5});


const baseLine = mk(llG, 'line', {x1: 202, x2: 1836, y1: 3024, y2: 3024, stroke: '#200', 'stroke-width': 4});


lagTicks.forEach(l => {
  const t = mk(llG, 'line', {x1: xLag(l), x2: xLag(l), y1: 2340, y2: 2357, stroke: '#444', 'stroke-width': 2.5});
  
  
  const lab = mk(llG, 'text', {class: 't', x: xLag(l), y: 3094, 'text-anchor': 'middle'}, String(l));
  
  
});
corrTicks.forEach(v => {
  [[202, 219], [1836, 1819]].forEach(s => {
    const t = mk(llG, 'line', {x1: s[0], x2: s[1], y1: yCorr(v), y2: yCorr(v), stroke: '#444', 'stroke-width': 2.5});
    
    
  });
  const lab = mk(llG, 'text', {class: 't', x: 186, y: yCorr(v) + 9, 'text-anchor': 'end'}, String(v));
  
  
});
</script>
</body>
</html>
